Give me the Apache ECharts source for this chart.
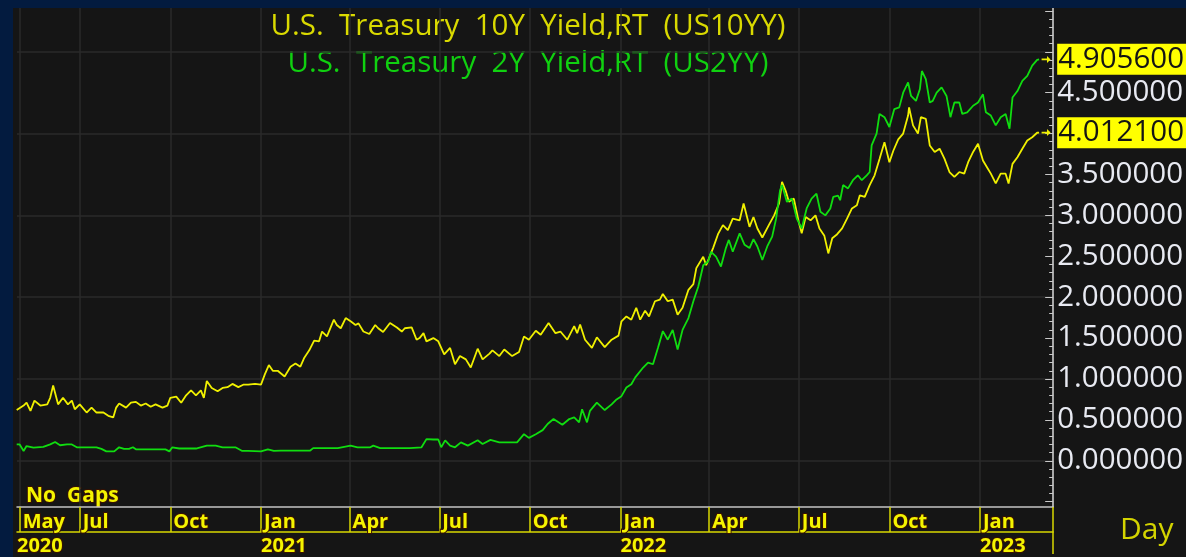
<!DOCTYPE html>
<html>
<head>
<meta charset="utf-8">
<title>US10YY / US2YY</title>
<script src="https://cdn.jsdelivr.net/npm/echarts@6/dist/echarts.min.js"></script>
<style>
    html, body {margin:0;padding:0;background:#031b3f;overflow:hidden}
    #chart {position:absolute;left:13px;top:8px;width:1173px;height:549px;background:#151515}
</style>
</head>
<body>
<div id="chart"></div>
<script>
// days counted from 2020-05-01
var tenYearDays = [-3,4,7,11,15,21,28,31,34,39,44,49,53,56,61,68,73,78,85,90,95,98,101,108,113,118,123,128,133,138,145,150,153,159,164,169,174,179,184,187,190,195,201,206,211,216,222,227,232,239,245,249,253,257,262,269,275,280,285,289,294,299,304,307,312,319,322,326,331,336,341,344,349,355,361,364,369,376,383,388,391,398,403,406,410,413,420,425,428,431,437,442,447,453,458,465,470,477,480,487,492,500,507,512,517,524,529,537,544,549,556,563,566,569,574,581,586,594,601,608,611,616,621,626,630,635,639,645,650,653,658,663,668,673,679,684,687,694,697,704,709,714,719,724,731,735,741,745,749,754,761,766,771,774,778,781,786,791,794,798,803,808,812,817,821,825,830,835,840,845,850,853,858,863,868,873,878,883,887,892,897,902,903,907,912,915,920,924,929,934,939,944,949,954,959,963,968,973,978,983,986,991,996,1001,1004,1008,1013,1018,1023,1028,1033,1035];
var tenYearValues = [0.62,0.675,0.71,0.61,0.735,0.675,0.69,0.77,0.92,0.69,0.77,0.69,0.735,0.63,0.69,0.59,0.65,0.59,0.59,0.55,0.53,0.65,0.70,0.65,0.71,0.72,0.675,0.70,0.66,0.69,0.65,0.675,0.77,0.785,0.71,0.80,0.86,0.80,0.86,0.77,0.975,0.89,0.85,0.89,0.90,0.94,0.90,0.93,0.93,0.94,0.93,1.06,1.17,1.10,1.10,1.03,1.15,1.19,1.15,1.26,1.35,1.47,1.46,1.58,1.52,1.725,1.66,1.62,1.745,1.705,1.66,1.68,1.58,1.55,1.66,1.62,1.575,1.685,1.63,1.58,1.62,1.63,1.48,1.50,1.56,1.46,1.50,1.46,1.38,1.30,1.38,1.18,1.28,1.24,1.14,1.37,1.24,1.31,1.35,1.28,1.36,1.28,1.33,1.52,1.48,1.59,1.54,1.685,1.56,1.58,1.48,1.645,1.56,1.665,1.48,1.38,1.51,1.39,1.48,1.53,1.705,1.765,1.725,1.87,1.725,1.835,1.765,1.95,1.97,2.04,1.95,1.97,1.785,1.87,2.09,2.16,2.355,2.495,2.39,2.60,2.77,2.88,2.82,2.96,2.94,3.145,2.86,2.98,2.84,2.73,2.89,3.00,3.145,3.41,3.29,3.165,3.205,2.92,2.78,2.98,2.94,3.00,2.84,2.75,2.535,2.72,2.77,2.84,2.96,3.085,3.125,3.245,3.225,3.37,3.49,3.69,3.895,3.65,3.79,3.93,4.00,4.22,4.32,4.10,4.00,4.20,4.18,3.855,3.775,3.815,3.69,3.53,3.47,3.53,3.51,3.65,3.775,3.875,3.67,3.57,3.51,3.39,3.51,3.51,3.39,3.63,3.71,3.815,3.915,3.955,4.01,4.0121];

var twoYearDays = [-3,0,4,7,14,24,31,36,41,48,53,58,68,78,83,88,96,101,106,111,115,118,133,148,152,155,162,179,190,199,206,219,226,232,245,252,258,265,275,285,295,298,308,323,336,343,356,359,366,381,396,408,413,420,425,428,432,437,442,448,455,465,470,478,487,497,505,512,517,524,531,536,542,551,558,563,568,571,576,579,586,594,601,606,611,616,621,625,633,638,643,648,653,658,663,668,673,679,684,689,694,699,702,707,712,717,720,724,731,736,741,745,749,754,759,764,768,772,774,779,784,789,794,799,804,809,813,818,823,826,831,833,836,841,846,851,855,860,863,865,870,873,878,883,888,893,897,902,905,910,914,916,920,924,927,931,936,941,945,949,954,957,962,968,973,978,981,986,991,996,1001,1005,1008,1013,1018,1023,1028,1033,1035];
var twoYearValues = [0.20,0.20,0.12,0.18,0.16,0.17,0.20,0.23,0.19,0.20,0.20,0.165,0.165,0.165,0.145,0.115,0.115,0.165,0.145,0.145,0.165,0.14,0.14,0.14,0.115,0.165,0.15,0.15,0.185,0.185,0.165,0.165,0.12,0.12,0.115,0.14,0.12,0.125,0.125,0.125,0.125,0.155,0.155,0.155,0.185,0.165,0.165,0.185,0.155,0.155,0.155,0.165,0.265,0.26,0.26,0.165,0.25,0.185,0.165,0.225,0.185,0.25,0.205,0.255,0.225,0.225,0.225,0.325,0.28,0.325,0.375,0.45,0.51,0.44,0.51,0.53,0.47,0.63,0.47,0.61,0.71,0.62,0.69,0.75,0.79,0.895,0.935,1.02,1.14,1.20,1.18,1.38,1.585,1.48,1.60,1.36,1.60,1.745,1.95,2.13,2.39,2.435,2.555,2.495,2.375,2.60,2.70,2.555,2.78,2.64,2.60,2.71,2.62,2.455,2.62,2.74,2.96,3.305,3.37,3.165,3.205,2.96,2.84,3.085,3.205,3.265,3.045,3.00,3.085,3.225,3.24,3.185,3.37,3.33,3.43,3.49,3.43,3.49,3.53,3.855,4.00,4.24,4.20,4.08,4.30,4.32,4.50,4.625,4.46,4.40,4.545,4.765,4.665,4.38,4.40,4.50,4.565,4.46,4.20,4.38,4.38,4.24,4.26,4.34,4.38,4.48,4.26,4.22,4.10,4.20,4.24,4.06,4.44,4.52,4.645,4.705,4.83,4.90,4.9056];

var monthTicks = ['2020-05-01','2020-07-01','2020-10-01','2021-01-01','2021-04-01','2021-07-01','2021-10-01','2022-01-01','2022-04-01','2022-07-01','2022-10-01','2023-01-01'];
var monthNames = ['May','Jul','Oct','Jan','Apr','Jul','Oct','Jan','Apr','Jul','Oct','Jan'];
var yearTicks = ['2021-01-01','2022-01-01','2023-01-01'];
var yearNames = ['2020','2021','2022','2023'];
var yLabelValues = [0, 0.5, 1, 1.5, 2, 2.5, 3, 3.5, 4.5];
var yGridValues = [0, 1, 2, 3, 4, 5];

var DAY = 86400000;
var START = Date.UTC(2020, 4, 1);
var X_MIN = START - 2.7 * DAY;
var X_MAX = START + 1049.3 * DAY;
var Y_MIN = -0.565, Y_MAX = 5.535;

function toPairs(days, vals) {
    return days.map(function (d, i) { return [START + d * DAY, vals[i]]; });
}
var monthTs = monthTicks.map(function (s) { return Date.parse(s); });
var yearTs = [X_MIN].concat(yearTicks.map(function (s) { return Date.parse(s); }));

function nearestName(ts, list, names) {
    var best = 0;
    for (var i = 1; i < list.length; i++) {
        if (Math.abs(list[i] - ts) < Math.abs(list[best] - ts)) best = i;
    }
    return names[best];
}

var minorTicks = [], majorTicks = [];
for (var i = -5; i <= 55; i++) {
    minorTicks.push(i / 10);
    if (i % 5 === 0) majorTicks.push(i / 10);
}

var YELLOW = '#f0f000';
var GREEN = '#10dd10';
var gridColor = '#2a2a2a';
var boxYellow = '#d8d800';

function lastMark(days, vals) {
    var last = vals[vals.length - 1];
    var ts = START + days[days.length - 1] * DAY;
    return {
        markLine: {
            silent: true,
            symbol: 'none',
            animation: false,
            lineStyle: {color: 'rgba(0,0,0,0)', width: 0},
            data: [{yAxis: last}],
            label: {
                position: 'end',
                distance: 4,
                formatter: last.toFixed(6),
                backgroundColor: '#ffff00',
                color: '#141414',
                fontFamily: 'Open Sans',
                fontSize: 29.5,
                padding: [1, 6, 0, 1]
            }
        },
        markPoint: {
            silent: true,
            animation: false,
            symbol: 'path://M0,3 L6,3 L6,0 L10,4 L6,8 L6,5 L0,5 Z',
            symbolSize: [9, 7],
            symbolOffset: [7, 0],
            itemStyle: {color: YELLOW},
            label: {show: false},
            data: [{coord: [ts, last]}]
        }
    };
}

var chart = echarts.init(document.getElementById('chart'));

var s10 = lastMark(tenYearDays, tenYearValues);
var s2 = lastMark(twoYearDays, twoYearValues);

var option = {
    backgroundColor: '#151515',
    animation: false,
    grid: {left: 1, right: 128, top: 0, bottom: 47},
    xAxis: [{
        type: 'value',
        position: 'bottom',
        min: X_MIN,
        max: X_MAX,
        axisLine: {show: true, onZero: false, lineStyle: {color: '#c4c4c4', width: 1.5}},
        axisTick: {show: true, inside: false, length: 25, customValues: monthTs.concat([X_MAX]),
            lineStyle: {color: boxYellow, width: 1.5}},
        axisLabel: {
            customValues: monthTs,
            formatter: function (v) { return nearestName(v, monthTs, monthNames); },
            align: 'left',
            padding: [0, 0, 0, 3],
            margin: 5,
            lineHeight: 20,
            color: '#f4f400',
            fontFamily: 'Open Sans',
            fontWeight: 'bold',
            fontSize: 20,
            textBorderColor: '#3a1200',
            textBorderWidth: 2
        },
        splitLine: {show: true, lineStyle: {color: gridColor, width: 1.5}}
    }, {
        type: 'value',
        position: 'bottom',
        offset: 25,
        min: X_MIN,
        max: X_MAX,
        axisLine: {show: true, onZero: false, lineStyle: {color: boxYellow, width: 1.5}},
        axisTick: {show: true, length: 22, customValues: [X_MAX], lineStyle: {color: boxYellow, width: 1.5}},
        axisLabel: {
            customValues: yearTs,
            formatter: function (v) { return nearestName(v, yearTs, yearNames); },
            align: 'left',
            margin: 4,
            lineHeight: 20,
            color: '#f4f400',
            fontFamily: 'Open Sans',
            fontWeight: 'bold',
            fontSize: 20,
            textBorderColor: '#3a1200',
            textBorderWidth: 2
        },
        splitLine: {show: false}
    }],
    yAxis: [{
        type: 'value',
        position: 'right',
        min: Y_MIN,
        max: Y_MAX,
        axisLine: {show: true, onZero: false, lineStyle: {color: '#d4d4d4', width: 1.5}},
        axisTick: {show: true, inside: true, length: 4, customValues: minorTicks, lineStyle: {color: '#c8c8c8'}},
        axisLabel: {
            customValues: yLabelValues,
            formatter: function (v) { return v.toFixed(6); },
            margin: 4,
            color: '#e8eaf2',
            fontFamily: 'Open Sans',
            fontSize: 29.5
        },
        splitLine: {show: false}
    }, {
        type: 'value',
        position: 'right',
        min: Y_MIN,
        max: Y_MAX,
        axisLine: {show: false, onZero: false},
        axisTick: {show: true, inside: true, length: 8, customValues: majorTicks, lineStyle: {color: '#c8c8c8'}},
        axisLabel: {show: false},
        splitLine: {show: false}
    }, {
        type: 'value',
        position: 'right',
        min: Y_MIN,
        max: Y_MAX,
        axisLine: {show: false, onZero: false},
        axisTick: {show: false, customValues: yGridValues},
        axisLabel: {show: false},
        splitLine: {show: true, lineStyle: {color: gridColor, width: 1.5}}
    }],
    graphic: [
        {type: 'text', x: 515, y: 19, style: {text: 'U.S.  Treasury  10Y  Yield,RT  (US10YY)', fill: '#dada00',
            font: '29.5px "Open Sans"', align: 'center', verticalAlign: 'middle'}},
        {type: 'text', x: 515, y: 56, style: {text: 'U.S.  Treasury  2Y  Yield,RT  (US2YY)', fill: '#10d010',
            font: '29.5px "Open Sans"', align: 'center', verticalAlign: 'middle'}},
        {type: 'text', x: 13, y: 488, style: {text: 'No  Gaps', fill: '#f4f400', stroke: '#3a1200', lineWidth: 2,
            font: 'bold 21px "Open Sans"', verticalAlign: 'middle'}},
        {type: 'text', x: 1107, y: 522, style: {text: 'Day', fill: '#d4d400',
            font: '30px "Open Sans"', verticalAlign: 'middle'}}
    ],
    series: [{
        name: 'U.S. Treasury 10Y Yield,RT (US10YY)',
        type: 'line',
        xAxisIndex: 0,
        yAxisIndex: 0,
        showSymbol: false,
        lineStyle: {color: YELLOW, width: 1.8},
        data: toPairs(tenYearDays, tenYearValues),
        markLine: s10.markLine,
        markPoint: s10.markPoint
    }, {
        name: 'U.S. Treasury 2Y Yield,RT (US2YY)',
        type: 'line',
        xAxisIndex: 0,
        yAxisIndex: 0,
        showSymbol: false,
        lineStyle: {color: GREEN, width: 1.8},
        data: toPairs(twoYearDays, twoYearValues),
        markLine: s2.markLine,
        markPoint: s2.markPoint
    }]
};
chart.setOption(option);
</script>
</body>
</html>
